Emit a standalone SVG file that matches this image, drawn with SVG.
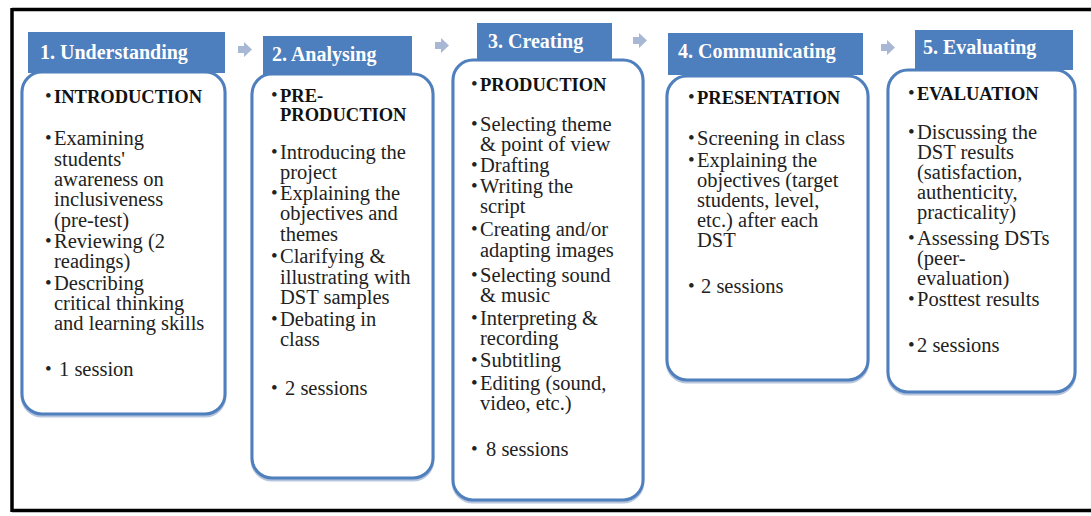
<svg xmlns="http://www.w3.org/2000/svg" width="1091" height="516" viewBox="0 0 1091 516">
  <style>
    .frame { stroke: #000; stroke-width: 3.5; fill: none; }
    .shadow { fill: none; stroke: #b7c6de; stroke-width: 3; }
    .body { fill: #fff; stroke: #4f7fbc; stroke-width: 3; }
    .head { fill: #4d7ebd; }
    .htxt { font-family: "Liberation Serif", "Times New Roman", serif; font-size: 20px; font-weight: bold; fill: #fff; }
    .txt { font-family: "Liberation Serif", "Times New Roman", serif; font-size: 20.5px; fill: #222; }
    .ttl { font-weight: bold; font-size: 18.5px; fill: #111; }
    .bul { font-family: "Liberation Serif", "Times New Roman", serif; font-size: 19px; fill: #222; }
    .arrow { fill: #a7b7d4; }
  </style>
  <defs>
    <path id="blockArrow" d="M0,4 H6 V0 L14,7.5 L6,15 V11 H0 Z"/>
  </defs>

  <rect width="1091" height="516" fill="#fff"/>
  <path class="frame" d="M12,9.5 H1091 M12,8 V512 M12,510.5 H1091"/>

  <!-- step arrows between the stages -->
  <g id="connectors" class="arrow">
    <use href="#blockArrow" x="238" y="42"/>
    <use href="#blockArrow" x="435" y="38"/>
    <use href="#blockArrow" x="633" y="33"/>
    <use href="#blockArrow" x="881" y="40"/>
  </g>

  <!-- 1. Understanding -->
  <g id="stage1">
    <rect class="shadow" x="22" y="74" width="203" height="342" rx="20"/>
    <rect class="body" x="22" y="72" width="203" height="342" rx="20"/>
    <rect class="head" x="28" y="32" width="197" height="41"/>
    <text class="htxt" x="40" y="59">1. Understanding</text>
    <g class="bul">
      <text x="45" y="102">•</text>
      <text x="45" y="144">•</text>
      <text x="45" y="247">•</text>
      <text x="45" y="289">•</text>
      <text x="45" y="375">•</text>
    </g>
    <text class="txt ttl" x="54" y="103">INTRODUCTION</text>
    <text class="txt">
      <tspan x="54" y="145">Examining</tspan>
      <tspan x="54" y="166">students'</tspan>
      <tspan x="54" y="186">awareness on</tspan>
      <tspan x="54" y="206">inclusiveness</tspan>
      <tspan x="54" y="227">(pre-test)</tspan>
      <tspan x="54" y="248">Reviewing (2</tspan>
      <tspan x="54" y="268">readings)</tspan>
      <tspan x="54" y="290">Describing</tspan>
      <tspan x="54" y="310">critical thinking</tspan>
      <tspan x="54" y="330">and learning skills</tspan>
      <tspan x="59" y="376">1 session</tspan>
    </text>
  </g>

  <!-- 2. Analysing -->
  <g id="stage2">
    <rect class="shadow" x="252" y="76" width="181" height="404" rx="20"/>
    <rect class="body" x="252" y="74" width="181" height="404" rx="20"/>
    <rect class="head" x="263" y="36" width="149" height="39"/>
    <text class="htxt" x="272" y="61">2. Analysing</text>
    <g class="bul">
      <text x="271" y="101">•</text>
      <text x="271" y="158">•</text>
      <text x="271" y="199">•</text>
      <text x="271" y="262">•</text>
      <text x="271" y="325">•</text>
      <text x="271" y="394">•</text>
    </g>
    <text class="txt ttl">
      <tspan x="280" y="102">PRE-</tspan>
      <tspan x="280" y="121">PRODUCTION</tspan>
    </text>
    <text class="txt">
      <tspan x="280" y="159">Introducing the</tspan>
      <tspan x="280" y="179">project</tspan>
      <tspan x="280" y="200">Explaining the</tspan>
      <tspan x="280" y="220">objectives and</tspan>
      <tspan x="280" y="241">themes</tspan>
      <tspan x="280" y="263">Clarifying &amp;</tspan>
      <tspan x="280" y="284">illustrating with</tspan>
      <tspan x="280" y="304">DST samples</tspan>
      <tspan x="280" y="326">Debating in</tspan>
      <tspan x="280" y="346">class</tspan>
      <tspan x="285" y="395">2 sessions</tspan>
    </text>
  </g>

  <!-- 3. Creating -->
  <g id="stage3">
    <rect class="shadow" x="453" y="62" width="190" height="440" rx="20"/>
    <rect class="body" x="453" y="60" width="190" height="440" rx="20"/>
    <rect class="head" x="477" y="23" width="135" height="38"/>
    <text class="htxt" x="488" y="48">3. Creating</text>
    <g class="bul">
      <text x="471" y="90">•</text>
      <text x="471" y="130">•</text>
      <text x="471" y="171">•</text>
      <text x="471" y="192">•</text>
      <text x="471" y="235">•</text>
      <text x="471" y="281">•</text>
      <text x="471" y="324">•</text>
      <text x="471" y="366">•</text>
      <text x="471" y="389">•</text>
      <text x="471" y="455">•</text>
    </g>
    <text class="txt ttl" x="480" y="91">PRODUCTION</text>
    <text class="txt">
      <tspan x="480" y="131">Selecting theme</tspan>
      <tspan x="480" y="151">&amp; point of view</tspan>
      <tspan x="480" y="172">Drafting</tspan>
      <tspan x="480" y="193">Writing the</tspan>
      <tspan x="480" y="213">script</tspan>
      <tspan x="480" y="236">Creating and/or</tspan>
      <tspan x="480" y="257">adapting images</tspan>
      <tspan x="480" y="282">Selecting sound</tspan>
      <tspan x="480" y="302">&amp; music</tspan>
      <tspan x="480" y="325">Interpreting &amp;</tspan>
      <tspan x="480" y="345">recording</tspan>
      <tspan x="480" y="367">Subtitling</tspan>
      <tspan x="480" y="390">Editing (sound,</tspan>
      <tspan x="480" y="410">video, etc.)</tspan>
      <tspan x="486" y="456">8 sessions</tspan>
    </text>
  </g>

  <!-- 4. Communicating -->
  <g id="stage4">
    <rect class="shadow" x="667" y="78" width="201" height="304" rx="20"/>
    <rect class="body" x="667" y="76" width="201" height="304" rx="20"/>
    <rect class="head" x="668" y="33" width="195" height="42"/>
    <text class="htxt" x="678" y="58">4. Communicating</text>
    <g class="bul">
      <text x="688" y="103">•</text>
      <text x="688" y="144">•</text>
      <text x="688" y="166">•</text>
      <text x="688" y="292">•</text>
    </g>
    <text class="txt ttl" x="697" y="104">PRESENTATION</text>
    <text class="txt">
      <tspan x="697" y="145">Screening in class</tspan>
      <tspan x="697" y="167">Explaining the</tspan>
      <tspan x="697" y="187">objectives (target</tspan>
      <tspan x="697" y="207">students, level,</tspan>
      <tspan x="697" y="227">etc.) after each</tspan>
      <tspan x="697" y="247">DST</tspan>
      <tspan x="701" y="293">2 sessions</tspan>
    </text>
  </g>

  <!-- 5. Evaluating -->
  <g id="stage5">
    <rect class="shadow" x="888" y="72" width="187" height="322" rx="20"/>
    <rect class="body" x="888" y="70" width="187" height="322" rx="20"/>
    <rect class="head" x="915" y="30" width="158" height="40"/>
    <text class="htxt" x="923" y="54">5. Evaluating</text>
    <g class="bul">
      <text x="908" y="99">•</text>
      <text x="908" y="138">•</text>
      <text x="908" y="244">•</text>
      <text x="908" y="305">•</text>
      <text x="908" y="351">•</text>
    </g>
    <text class="txt ttl" x="917" y="100">EVALUATION</text>
    <text class="txt">
      <tspan x="917" y="139">Discussing the</tspan>
      <tspan x="917" y="159">DST results</tspan>
      <tspan x="917" y="179">(satisfaction,</tspan>
      <tspan x="917" y="199">authenticity,</tspan>
      <tspan x="917" y="219">practicality)</tspan>
      <tspan x="917" y="245">Assessing DSTs</tspan>
      <tspan x="917" y="265">(peer-</tspan>
      <tspan x="917" y="285">evaluation)</tspan>
      <tspan x="917" y="306">Posttest results</tspan>
      <tspan x="917" y="352">2 sessions</tspan>
    </text>
  </g>
</svg>
